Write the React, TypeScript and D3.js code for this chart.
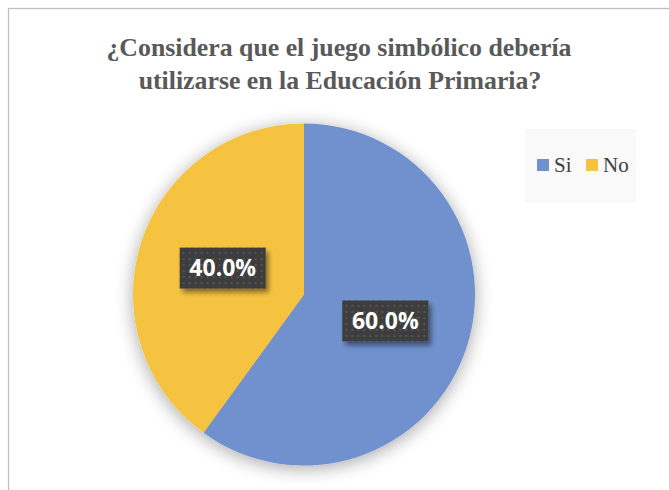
import React from "react";
import * as d3 from "d3";

const categories = ["Si", "No"];
const values = [60, 40];
const colors = ["#6F91CD", "#F5C33F"];
const titleLines = ["¿Considera que el juego simbólico debería", "utilizarse en la Educación Primaria?"];

export default function App() {
  const W = 669, H = 490;
  const cx = 304, cy = 294.5, R = 171;
  const pie = d3.pie<number>().value((d) => d).sort(null);
  const arcs = pie(values);
  const arcGen = d3.arc<d3.PieArcDatum<number>>().innerRadius(0).outerRadius(R);
  const labelArc = d3.arc<d3.PieArcDatum<number>>().innerRadius(R * 0.5).outerRadius(R * 0.5);
  const total = d3.sum(values);
  const fmt = d3.format(".1%");
  const boxW = 86, boxH = 41;
  return (
    <svg width={W} height={H} style={{ position: "absolute", left: 0, top: 0 }}>
      <defs>
        <filter id="pieShadow" x="-30%" y="-30%" width="160%" height="160%">
          <feGaussianBlur in="SourceAlpha" stdDeviation="9" />
          <feOffset dx="0" dy="3" />
          <feComponentTransfer>
            <feFuncA type="linear" slope="0.35" />
          </feComponentTransfer>
          <feMerge>
            <feMergeNode />
            <feMergeNode in="SourceGraphic" />
          </feMerge>
        </filter>
        <filter id="boxShadow" x="-20%" y="-20%" width="150%" height="160%">
          <feGaussianBlur in="SourceAlpha" stdDeviation="2.5" />
          <feOffset dx="3" dy="4" />
          <feComponentTransfer>
            <feFuncA type="linear" slope="0.45" />
          </feComponentTransfer>
          <feMerge>
            <feMergeNode />
            <feMergeNode in="SourceGraphic" />
          </feMerge>
        </filter>
        <pattern id="dots" width="6" height="6" patternUnits="userSpaceOnUse">
          <rect width="6" height="6" fill="#3d3d3d" />
          <rect x="2" y="2" width="2" height="2" fill="#545454" />
        </pattern>
      </defs>
      <rect x={0} y={0} width={W} height={H} fill="#ffffff" />
      <rect x={8.5} y={8.5} width={W + 10} height={H + 10} fill="#ffffff" stroke="#bfbfbf" strokeWidth={1.3} />
      <g fontFamily="'Liberation Serif', 'Times New Roman', serif" fontWeight="bold" fontSize={25.8} fill="#595959" textAnchor="middle">
        <text x={339} y={56}>{titleLines[0]}</text>
        <text x={340} y={89}>{titleLines[1]}</text>
      </g>
      <g transform={`translate(${cx},${cy})`} filter="url(#pieShadow)">
        {arcs.map((a, i) => (
          <path key={categories[i]} d={arcGen(a) || ""} fill={colors[i]} />
        ))}
      </g>
      <g transform={`translate(${cx},${cy})`}>
        {arcs.map((a, i) => {
          const [lx, ly] = labelArc.centroid(a);
          return (
            <g key={categories[i]} transform={`translate(${lx},${ly})`}>
              <rect x={-boxW / 2} y={-boxH / 2} width={boxW} height={boxH} fill="url(#dots)" filter="url(#boxShadow)" />
              <text x={0} y={8} textAnchor="middle" fill="#ffffff" fontFamily="'Open Sans', 'Liberation Sans', sans-serif" fontWeight="bold" fontSize={23}>
                {fmt(values[i] / total)}
              </text>
            </g>
          );
        })}
      </g>
      <g>
        <rect x={525} y={129} width={111} height={74} fill="#f9f9f9" />
        {categories.map((c, i) => {
          const x0 = [537, 586][i];
          return (
            <g key={c}>
              <rect x={x0} y={159} width={12} height={12} fill={colors[i]} />
              <text x={x0 + 17} y={172} fontFamily="'Liberation Serif', 'Times New Roman', serif" fontSize={21} fill="#404040">{c}</text>
            </g>
          );
        })}
      </g>
    </svg>
  );
}
